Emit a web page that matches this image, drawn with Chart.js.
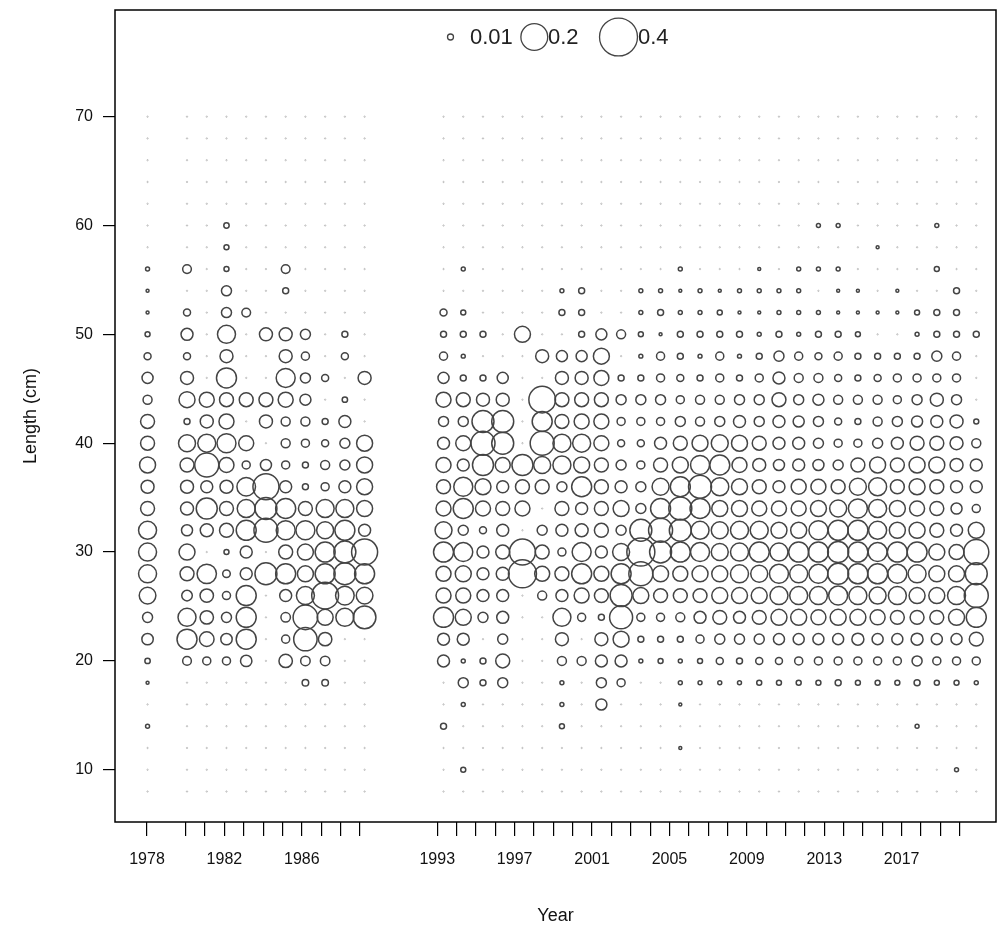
<!DOCTYPE html>
<html><head><meta charset="utf-8">
<script src="https://cdn.jsdelivr.net/npm/chart.js@4/dist/chart.umd.min.js"></script>
<style>html,body{margin:0;padding:0;background:#fff}#wrap{width:1000px;height:932px}</style>
</head><body><div id="wrap"><canvas id="c" width="1000" height="932"></canvas></div>
<script>
// Length bins (cm), bottom to top
const lengths = [8,10,12,14,16,18,20,22,24,26,28,30,32,34,36,38,40,42,44,46,48,50,52,54,56,58,60,62,64,66,68,70];
const tickYears = [1978,1980,1981,1982,1983,1984,1985,1986,1987,1988,1989,1993,1994,1995,1996,1997,1998,1999,2000,2001,2002,2003,2004,2005,2006,2007,2008,2009,2010,2011,2012,2013,2014,2015,2016,2017,2018,2019,2020];
const labelYears = [1978,1982,1986,1993,1997,2001,2005,2009,2013,2017];
const yTicks = [10,20,30,40,50,60,70];
const legendValues = [0.01,0.2,0.4];

// Proportion at length, one array per year (lengths 8..70)
const p1978 = [0,0,0,.0044,0,.0025,.008,.036,.028,.077,.09,.09,.09,.054,.047,.071,.054,.054,.0225,.034,.0136,.007,.0025,.0025,.0044,0,0,0,0,0,0,0];
const p1980 = [0,0,0,0,0,0,.021,.111,.09,.031,.054,.071,.034,.047,.047,.054,.08,.01,.071,.047,.0136,.04,.0136,0,.021,0,0,0,0,0,0,0];
const p1981 = [0,0,0,0,0,0,.018,.059,.05,.05,.104,0,.047,.1225,.04,.16,.09,.047,.0625,0,0,0,0,0,0,0,0,0,0,0,0,0];
const p1982 = [0,0,0,0,0,0,.018,.036,.028,.018,.016,.007,.054,.054,.047,.0625,.1,.0625,.054,.111,.047,.09,.028,.028,.007,.007,.008,0,0,0,0,0];
const p1983 = [0,0,0,0,0,0,.036,.111,.111,.111,.04,.04,.111,.09,.096,.018,.0625,0,.054,0,0,0,.021,0,0,0,0,0,0,0,0,0];
const p1984 = [0,0,0,0,0,0,0,0,0,0,.134,0,.16,.134,.188,.034,0,.047,.054,0,0,.047,0,0,0,0,0,0,0,0,0,0];
const p1985 = [0,0,0,0,0,0,.05,.018,.025,.04,.111,.054,.1,.111,.04,.018,.0225,.0225,.0625,.1,.047,.047,0,.01,.021,0,0,0,0,0,0,0];
const p1986 = [0,0,0,0,0,.012,.025,.152,.168,.09,.071,.071,.1,.054,.01,.01,.018,.0225,.034,.028,.018,.028,0,0,0,0,0,0,0,0,0,0];
const p1987 = [0,0,0,0,0,.012,.025,.05,.071,.2,.111,.111,.08,.09,.018,.0225,.0136,.01,0,.0136,0,0,0,0,0,0,0,0,0,0,0,0];
const p1988 = [0,0,0,0,0,0,0,0,.09,.096,.134,.134,.111,.09,.04,.028,.028,.04,.008,0,.0136,.01,0,0,0,0,0,0,0,0,0,0];
const p1989 = [0,0,0,0,0,0,0,0,.142,.077,.111,.188,.04,.071,.071,.071,.071,0,0,.047,0,0,0,0,0,0,0,0,0,0,0,0];
const p1993 = [0,0,0,.01,0,0,.04,.04,.111,.0625,.0625,.111,.08,.0625,.054,.0625,.04,.028,.0625,.034,.018,.01,.0136,0,0,0,0,0,0,0,0,0];
const p1994 = [0,.007,0,0,.0044,.028,.0044,.04,.071,.0625,.071,.1,.028,.111,.1,.04,.0625,.028,.054,.01,.0044,.01,.007,0,.0044,0,0,0,0,0,0,0];
const p1995 = [0,0,0,0,0,.01,.01,0,.028,.04,.04,.04,.0136,.0625,.071,.1225,.16,.134,.047,.01,0,.01,0,0,0,0,0,0,0,0,0,0];
const p1996 = [0,0,0,0,0,.028,.054,.028,.04,.04,.047,.054,.04,.054,.04,.0625,.134,.134,.047,.034,0,0,0,0,0,0,0,0,0,0,0,0];
const p1997 = [0,0,0,0,0,0,0,0,0,0,.218,.188,0,.0625,.054,.1225,0,0,0,0,0,.071,0,0,0,0,0,0,0,0,0,0];
const p1998 = [0,0,0,0,0,0,0,0,0,.0225,.0625,.054,.028,0,.054,.08,.16,.111,.197,0,.047,0,0,0,0,0,0,0,0,0,0,0];
const p1999 = [0,0,0,.007,.0044,.0044,.0225,.047,.09,.04,.054,.018,.04,.054,.028,.09,.09,.054,.054,.047,.034,0,.01,.0044,0,0,0,0,0,0,0,0];
const p2000 = [0,0,0,0,0,0,.0225,0,.018,.0625,.111,.1,.047,.04,.111,.071,.09,.0625,.054,.047,.034,.01,.01,.01,0,0,0,0,0,0,0,0];
const p2001 = [0,0,0,0,.034,.028,.04,.047,.01,.054,.0625,.04,.054,.054,.054,.054,.0625,.0625,.054,.0625,.071,.034,0,0,0,0,0,0,0,0,0,0];
const p2002 = [0,0,0,0,0,.018,.04,.071,.147,.134,.111,.08,.028,.071,.04,.028,.0136,.018,.028,.01,0,.0225,0,0,0,0,0,0,0,0,0,0];
const p2003 = [0,0,0,0,0,0,.0044,.01,.018,.071,.16,.218,.134,.028,.028,.018,.0136,.018,.028,.01,.0044,.007,.0044,.0044,0,0,0,0,0,0,0,0];
const p2004 = [0,0,0,0,0,0,.007,.01,.018,.054,.071,.134,.16,.111,.08,.054,.04,.018,.028,.018,.018,.0025,.01,.0044,0,0,0,0,0,0,0,0];
const p2005 = [0,0,.0025,0,.0025,.0044,.0044,.01,.0225,.054,.0625,.111,.134,.147,.111,.071,.054,.028,.018,.0136,.01,.01,.0044,.0025,.0044,0,0,0,0,0,0,0];
const p2006 = [0,0,0,0,0,.0044,.007,.018,.04,.054,.071,.1,.09,.111,.147,.1,.071,.0225,.0225,.01,.0044,.01,.0044,.0044,0,0,0,0,0,0,0,0];
const p2007 = [0,0,0,0,0,.0044,.0136,.028,.054,.071,.071,.08,.08,.071,.09,.111,.08,.028,.0225,.018,.018,.01,.007,.0025,0,0,0,0,0,0,0,0];
const p2008 = [0,0,0,0,0,.0044,.01,.028,.04,.071,.09,.09,.09,.071,.071,.0625,.071,.04,.028,.01,.0044,.01,.0025,.0044,0,0,0,0,0,0,0,0];
const p2009 = [0,0,0,0,0,.007,.0136,.028,.054,.071,.08,.111,.09,.0625,.054,.047,.054,.028,.028,.018,.01,.0044,.0025,.0044,.0025,0,0,0,0,0,0,0];
const p2010 = [0,0,0,0,0,.007,.0136,.034,.071,.09,.1,.09,.071,.0625,.04,.034,.04,.04,.054,.04,.028,.01,.0044,.0044,0,0,0,0,0,0,0,0];
const p2011 = [0,0,0,0,0,.007,.018,.034,.071,.09,.09,.111,.071,.0625,.0625,.04,.04,.034,.028,.0225,.018,.0044,.0044,.0044,.0044,0,0,0,0,0,0,0];
const p2012 = [0,0,0,0,0,.007,.018,.034,.0625,.09,.1,.111,.1,.071,.0625,.034,.028,.028,.034,.0225,.0136,.01,.0044,0,.0044,0,.0044,0,0,0,0,0];
const p2013 = [0,0,0,0,0,.01,.018,.034,.071,.1,.1225,.1225,.111,.08,.054,.028,.018,.0136,.0225,.0136,.018,.01,.0025,.0025,.0044,0,.0044,0,0,0,0,0];
const p2014 = [0,0,0,0,0,.007,.018,.04,.071,.09,.111,.111,.111,.1,.08,.054,.018,.01,.0225,.01,.01,.007,.0025,.0025,0,0,0,0,0,0,0,0];
const p2015 = [0,0,0,0,0,.007,.018,.034,.0625,.08,.111,.1,.09,.09,.09,.071,.028,.0225,.0225,.0136,.01,0,.0025,0,0,.0025,0,0,0,0,0,0];
const p2016 = [0,0,0,0,0,.007,.018,.034,.054,.09,.1,.111,.071,.071,.054,.054,.04,.028,.018,.018,.01,0,.0025,.0025,0,0,0,0,0,0,0,0];
const p2017 = [0,0,0,.0044,0,.01,.028,.04,.054,.071,.09,.111,.071,.0625,.071,.071,.054,.034,.028,.018,.01,.0044,.007,0,0,0,0,0,0,0,0,0];
const p2018 = [0,0,0,0,0,.007,.018,.034,.054,.071,.071,.071,.054,.054,.054,.071,.054,.04,.047,.018,.028,.01,.01,0,.007,0,.0044,0,0,0,0,0];
const p2019 = [0,.0044,0,0,0,.007,.018,.034,.071,.09,.071,.0625,.04,.034,.04,.047,.047,.047,.028,.018,.018,.01,.01,.01,0,0,0,0,0,0,0,0];
const p2020 = [0,0,0,0,0,.0044,.018,.054,.111,.16,.134,.174,.071,.018,.04,.04,.0225,.007,0,0,0,.01,0,0,0,0,0,0,0,0,0,0];

const years = [1978,1980,1981,1982,1983,1984,1985,1986,1987,1988,1989,1993,1994,1995,1996,1997,1998,1999,2000,2001,2002,2003,2004,2005,2006,2007,2008,2009,2010,2011,2012,2013,2014,2015,2016,2017,2018,2019,2020];
const series = [p1978,p1980,p1981,p1982,p1983,p1984,p1985,p1986,p1987,p1988,p1989,p1993,p1994,p1995,p1996,p1997,p1998,p1999,p2000,p2001,p2002,p2003,p2004,p2005,p2006,p2007,p2008,p2009,p2010,p2011,p2012,p2013,p2014,p2015,p2016,p2017,p2018,p2019,p2020];

const SIZE = 30; // radius (px) of a proportion of 1.0; area proportional to value
const rad = v => SIZE * Math.sqrt(v);
const FONT = "'Liberation Sans', Arial, sans-serif";

const filled = [], empty = [];
years.forEach((yr, i) => {
  series[i].forEach((v, j) => {
    if (v > 0) filled.push({x: yr, y: lengths[j], r: rad(v)});
    else empty.push({x: yr, y: lengths[j], r: 0.7});
  });
});

const boxPlugin = {
  id: 'box',
  afterDraw(chart) {
    const {ctx, chartArea: a} = chart;
    ctx.save();
    ctx.strokeStyle = '#000';
    ctx.lineWidth = 1.5;
    ctx.strokeRect(a.left, a.top, a.right - a.left, a.bottom - a.top);
    ctx.restore();
  }
};

const legendPlugin = {
  id: 'sizeLegend',
  afterDatasetsDraw(chart) {
    const {ctx} = chart;
    const cy = 37;
    const pos = [{cx: 450.5, tx: 470}, {cx: 534.3, tx: 548}, {cx: 618.5, tx: 638}];
    ctx.save();
    ctx.font = '22px ' + FONT;
    ctx.textBaseline = 'middle';
    ctx.fillStyle = '#222';
    legendValues.forEach((v, i) => {
      ctx.beginPath();
      ctx.strokeStyle = '#444';
      ctx.lineWidth = 1.3;
      ctx.arc(pos[i].cx, cy, rad(v), 0, Math.PI * 2);
      ctx.stroke();
      ctx.fillText(String(v), pos[i].tx, cy + 1);
    });
    ctx.restore();
  }
};

new Chart(document.getElementById('c'), {
  type: 'bubble',
  data: {
    datasets: [
      {data: empty, borderColor: 'rgba(120,120,120,0.4)', backgroundColor: 'rgba(0,0,0,0)', borderWidth: 1},
      {data: filled, borderColor: '#444', backgroundColor: 'rgba(0,0,0,0)', borderWidth: 1.5}
    ]
  },
  options: {
    responsive: false,
    devicePixelRatio: 1,
    animation: false,
    events: [],
    clip: false,
    layout: {autoPadding: false, padding: {top: 10, right: 4, left: 0, bottom: 0}},
    plugins: {legend: {display: false}, tooltip: {enabled: false}},
    scales: {
      // scale used to place the bubbles
      x: {
        type: 'linear', min: 1976.35, max: 2021.0, display: false
      },
      // year axis drawn below the plot (the original's tick axis is slightly compressed)
      xt: {
        type: 'linear', position: 'bottom', axis: 'x', min: 1976.346, max: 2021.876,
        afterBuildTicks: s => { s.ticks = tickYears.map(v => ({value: v})); },
        afterFit: s => { s.height = 110; s.paddingLeft = 0; s.paddingRight = 0; },
        ticks: {autoSkip: false, maxRotation: 0, minRotation: 0, padding: 14, color: '#111',
          font: {family: FONT, size: 16},
          callback: v => labelYears.includes(v) ? String(v) : ''},
        grid: {drawOnChartArea: false, drawTicks: true, tickLength: 14, color: '#000', lineWidth: 1.2},
        border: {display: false},
        title: {display: true, text: 'Year', color: '#111', font: {family: FONT, size: 18}, padding: {top: 0, bottom: 5}}
      },
      y: {
        type: 'linear', min: 5.2, max: 79.8,
        afterBuildTicks: s => { s.ticks = yTicks.map(v => ({value: v})); },
        afterFit: s => { s.width = 115; s.paddingTop = 0; s.paddingBottom = 0; },
        ticks: {padding: 10, color: '#111', font: {family: FONT, size: 16}},
        grid: {drawOnChartArea: false, drawTicks: true, tickLength: 12, color: '#000', lineWidth: 1.2},
        border: {display: false},
        title: {display: true, text: 'Length (cm)', color: '#111', font: {family: FONT, size: 18}, padding: {top: 20, bottom: 0}}
      }
    }
  },
  plugins: [boxPlugin, legendPlugin]
});
</script></body></html>
